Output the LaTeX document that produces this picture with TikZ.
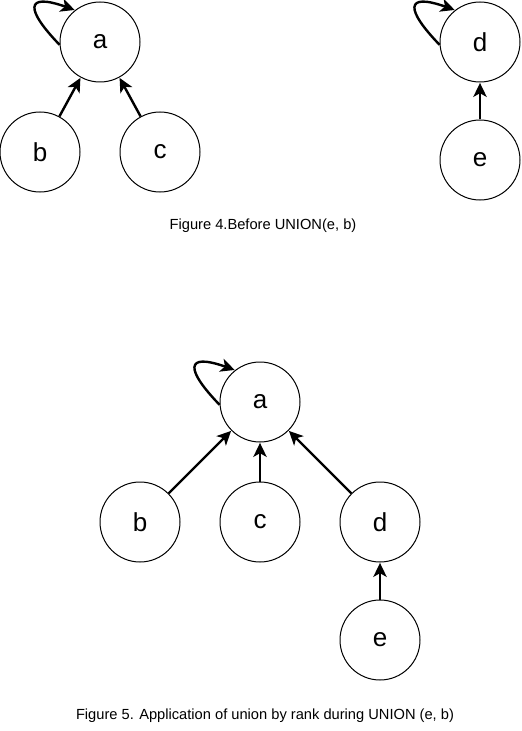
\documentclass[tikz,border=0pt]{standalone}
\usepackage{fontspec}
\setmainfont{Liberation Sans}
\usetikzlibrary{arrows.meta,calc}
\begin{document}
\begin{tikzpicture}[x=0.75pt,y=-0.75pt,
  vtx/.style={draw,circle,line width=0.75pt,minimum size=60pt,inner sep=0pt,font=\fontsize{19.5}{20}\selectfont},
  edge/.style={line width=1.8pt,-{Stealth[length=10.5pt,width=10pt,inset=2.8pt]},shorten >=0.3pt},
  captext/.style={font=\fontsize{11}{13}\selectfont}]
\useasboundingbox (0,0) rectangle (521,731);
% Figure 4
\node[vtx] (a1) at (100,42) {a};
\node[vtx] (b1) at (40,152) {b};
\node[vtx] (c1) at (160,152) {c};
\node[vtx] (d1) at (480,42) {d};
\node[vtx] (e1) at (480,160) {e};
\draw[edge] (b1) -- (a1);
\draw[edge] (c1) -- (a1);
\draw[edge] (e1) -- (d1);
\draw[edge] (a1.184) .. controls ($(a1)+(-74,-32)$) and ($(a1)+(-76,-50)$) .. (a1.128);
\draw[edge] (d1.184) .. controls ($(d1)+(-74,-32)$) and ($(d1)+(-76,-50)$) .. (d1.128);
\node[captext] (cap1) at (263,226) {Figure 4.Before UNION(e, b)};
% Figure 5
\node[vtx] (a2) at (260,402) {a};
\node[vtx] (b2) at (140,522) {b};
\node[vtx] (c2) at (260,522) {c};
\node[vtx] (d2) at (380,522) {d};
\node[vtx] (e2) at (380,640) {e};
\draw[edge] (b2) -- (a2);
\draw[edge] (c2) -- (a2);
\draw[edge] (d2) -- (a2);
\draw[edge] (e2) -- (d2);
\draw[edge] (a2.184) .. controls ($(a2)+(-74,-32)$) and ($(a2)+(-76,-50)$) .. (a2.128);
\node[captext] (cap2) at (265,716) {Figure 5. Application of union by rank during UNION (e, b)};
\end{tikzpicture}
\end{document}
